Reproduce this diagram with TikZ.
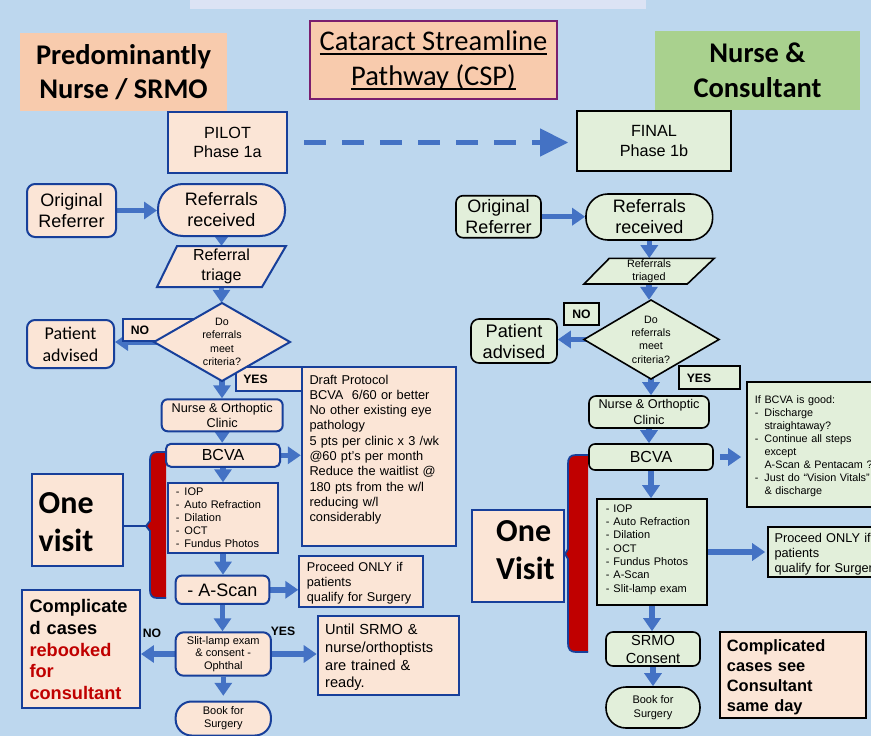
\documentclass[tikz,border=0pt]{standalone}
\usepackage{fontspec}
\setmainfont{Liberation Sans}
\newfontfamily\calib{Carlito}
\usetikzlibrary{arrows.meta,backgrounds}
\definecolor{bgc}{HTML}{BDD7EE}
\definecolor{stripc}{HTML}{DCE3F4}
\definecolor{peachH}{HTML}{F8CBAD}
\definecolor{peachL}{HTML}{FBE5D6}
\definecolor{greenH}{HTML}{A9D18E}
\definecolor{greenL}{HTML}{E2EFDA}
\definecolor{dblue}{HTML}{173F9A}
\definecolor{ablue}{HTML}{4472C4}
\definecolor{dred}{HTML}{C00000}
\definecolor{purp}{HTML}{7A1E6E}
\newcommand\fsz[2]{\fontsize{#1}{#2}\selectfont}
\newcommand\myul[1]{\setbox0=\hbox{#1}\rlap{\rule[-4.5pt]{\wd0}{1.7pt}}\box0}
\newcommand\ldash[1]{\makebox[#1][l]{-}}
\begin{document}
\begin{tikzpicture}[x=1pt,y=-1pt,
  lbox/.style={draw=dblue,line width=2pt,fill=peachL,inner sep=0pt,align=center},
  rbox/.style={draw=black,line width=1.6pt,fill=greenL,inner sep=0pt,align=center},
  lshape/.style={draw=dblue,line width=2pt,fill=peachL},
  rshape/.style={draw=black,line width=1.6pt,fill=greenL},
  txt/.style={inner sep=0pt,align=left,anchor=base west},
  lbl/.style={inner sep=0pt,font=\bfseries\fsz{12.2}{14}},
  plain/.style={inner sep=0pt,align=center},
  arr/.style={draw=ablue,line width=5.5pt,-{Triangle[length=13pt,width=17pt]}},
  sarr/.style={draw=ablue,line width=5pt,-{Triangle[length=10pt,width=14pt]}},
  hdr/.style={inner sep=0pt,align=center,font=\calib\bfseries\fsz{28.5}{34.5}},
  brace/.style={draw=dblue,line width=1.8pt},
]
\useasboundingbox (0,0) rectangle (871,736);
\begin{pgfonlayer}{background}
\fill[bgc] (0,0) rectangle (871,736);
\end{pgfonlayer}
\fill[stripc] (190,0) rectangle (646,9);

% headers
\node[hdr,fill=peachH,minimum width=207,minimum height=78] (hdrL) at (123.5,72) {Predominantly\\Nurse / SRMO};
\node[draw=purp,line width=1.5pt,fill=peachH,minimum width=247,minimum height=78,inner sep=0pt,align=center,font=\calib\fsz{28.5}{35}] (csp) at (433.5,60) {\myul{Cataract Streamline}\\\myul{Pathway (CSP)}};
\node[hdr,fill=greenH,minimum width=205,minimum height=79] (hdrR) at (757.5,70.5) {Nurse \&\\Consultant};

\node[lbox,minimum width=119,minimum height=61,font=\fsz{16.2}{19.6}] (pilot) at (227.5,142.5) {PILOT\\Phase 1a};
\node[rbox,minimum width=154,minimum height=60,font=\fsz{16.2}{20}] (final) at (654,141) {FINAL\\Phase 1b};

% ---------------- left flow
\node[lbox,rounded corners=8pt,minimum width=89,minimum height=53,font=\fsz{18}{20.7}] (origL) at (71.5,210.5) {Original\\Referrer};
\node[lbox,rounded corners=25pt,minimum width=127,minimum height=52,font=\fsz{18}{21}] (recvL) at (221.5,210) {Referrals\\received};
\path[lshape] (177,246) -- (286,246) -- (262,287) -- (157,287) -- cycle;
\node[plain,minimum width=129,minimum height=41,font=\fsz{16}{20}] (triL) at (221.5,266.5) {Referral\\triage};

\path[lshape] (123,319) rectangle (200,341);
\node[lbl] (noL) at (140,330.5) {NO};
\path[lshape] (236,367) rectangle (310,391);
\node[lbl] (yesL) at (255.5,379.5) {YES};
\path[lshape] (222,303) -- (290,342) -- (222,381) -- (154,342) -- cycle;
\node[plain,minimum width=136,minimum height=78,font=\fsz{10.7}{13.3}] (diaL) at (222,342) {Do\\referrals\\meet\\criteria?};

\node[lbox,rounded corners=8pt,minimum width=87,minimum height=48,font=\calib\fsz{18}{21.7}] (patL) at (70.5,344) {Patient\\advised};
\node[lbox,rounded corners=6pt,minimum width=121,minimum height=32,font=\fsz{12.7}{15.6}] (nurseL) at (222.2,415.3) {Nurse \& Orthoptic\\Clinic};

% left bracket
\fill[dred] (166,452) -- (157,452) .. controls (152,452) and (150,455) .. (150,460) -- (150,521) -- (146,526) -- (150,531) -- (150,590) .. controls (150,595) and (152,598) .. (157,598) -- (166,598) -- cycle;
\draw[brace] (166,452) -- (157,452) .. controls (152,452) and (150,455) .. (150,460) -- (150,521) -- (146,526) -- (150,531) -- (150,590) .. controls (150,595) and (152,598) .. (157,598) -- (166,598);
\coordinate (tipL) at (146,526);

\node[lbox,rounded corners=5pt,minimum width=114,minimum height=23,font=\fsz{16}{19}] (bcvaL) at (223,455.3) {BCVA};
\node[lbox,minimum width=154,minimum height=179] (draftL) at (378.8,456.7) {};
\node[txt,text width=150,font=\fsz{12.8}{15.3}] (draftT) at (309.3,384) {Draft Protocol\\BCVA\ \ 6/60 or better\\No other existing eye\\pathology\\5 pts per clinic x 3 /wk\\@60 pt’s per month\\Reduce the waitlist @\\180 pts from the w/l\\reducing w/l\\considerably};

\node[lbox,minimum width=110.6,minimum height=70] (listL) at (223,518.3) {};
\node[txt,text width=105,font=\fsz{11}{13}] (listLT) at (175.7,495.7) {\ldash{8.6pt}IOP\\\ldash{8.6pt}Auto Refraction\\\ldash{8.6pt}Dilation\\\ldash{8.6pt}OCT\\\ldash{8.6pt}Fundus Photos};

\node[lbox,rounded corners=6pt,minimum width=93.6,minimum height=28.3,font=\fsz{18}{21}] (ascanL) at (222.5,589.8) {- A-Scan};
\node[lbox,minimum width=123.4,minimum height=51.3] (procL) at (361,581.7) {};
\node[txt,text width=120,font=\fsz{12.7}{15}] (procLT) at (306.7,571.3) {Proceed ONLY if\\patients\\qualify for Surgery};

\node[lbox,rounded corners=8pt,minimum width=95.3,minimum height=43.4,font=\fsz{11}{12.8}] (slitL) at (223.3,654) {Slit-lamp exam\\\& consent -\\Ophthal};
\node[lbl] (noL2) at (152,633.3) {NO};
\node[lbl] (yesL2) at (283,631.7) {YES};

\node[lbox,minimum width=118.3,minimum height=118.3] (compL) at (80.8,649.2) {};
\node[txt,text width=115,font=\bfseries\fsz{18.2}{21.8}] (compLT) at (29.3,612.5) {Complicate\\d cases\\\textcolor{dred}{rebooked}\\\textcolor{dred}{for}\\\textcolor{dred}{consultant}};

\node[lbox,minimum width=141.6,minimum height=79.3] (untilL) at (388.5,655.3) {};
\node[txt,text width=135,font=\fsz{14.6}{17.8}] (untilLT) at (325,634.5) {Until SRMO \&\\nurse/orthoptists\\are trained \&\\ready.};

\node[lbox,rounded corners=16pt,minimum width=95.3,minimum height=34,font=\fsz{11}{12.8}] (bookL) at (223.3,718.5) {Book for\\Surgery};

\node[lbox,minimum width=91.6,minimum height=91.7] (oneL) at (77.5,520.2) {};
\node[txt,text width=85,font=\calib\bfseries\fsz{32}{38.3}] (oneLT) at (38.5,513.3) {One\\visit};
\draw[brace] (oneL.east |- tipL) -- (tipL);

% ---------------- right flow
\node[rbox,rounded corners=7pt,minimum width=85,minimum height=42,font=\fsz{18}{20.7}] (origR) at (498.5,216.7) {Original\\Referrer};
\node[rbox,rounded corners=22pt,minimum width=126.7,minimum height=46,font=\fsz{18}{21}] (recvR) at (649.3,217) {Referrals\\received};
\path[rshape] (609.3,258.3) -- (714.3,258.3) -- (687.3,284) -- (584,284) -- cycle;
\node[plain,minimum width=130,minimum height=25.7,font=\fsz{10.8}{12.7}] (triR) at (649,271.2) {Referrals\\triaged};

\path[rshape] (564,303) rectangle (599,325);
\node[lbl] (noR) at (581.5,314) {NO};
\path[rshape] (679,366) rectangle (740,389);
\node[lbl] (yesR) at (699,378) {YES};
\path[rshape] (651,300) -- (719,339.5) -- (651,379) -- (584,339.5) -- cycle;
\node[plain,minimum width=135,minimum height=79,font=\fsz{10.7}{13.3}] (diaR) at (651,339.5) {Do\\referrals\\meet\\criteria?};

\node[rbox,rounded corners=8pt,minimum width=86,minimum height=44,font=\fsz{18.2}{21}] (patR) at (514,341) {Patient\\advised};
\node[rbox,rounded corners=7pt,minimum width=120,minimum height=32,font=\fsz{12.7}{15.6}] (nurseR) at (649,412) {Nurse \& Orthoptic\\Clinic};

% right bracket
\fill[dred] (588,455) -- (576,455) .. controls (570,455) and (568,458) .. (568,464) -- (568,549) -- (565,554) -- (568,559) -- (568,643) .. controls (568,649) and (570,652) .. (576,652) -- (588,652) -- cycle;
\draw[brace] (588,455) -- (576,455) .. controls (570,455) and (568,458) .. (568,464) -- (568,549) -- (565,554) -- (568,559) -- (568,643) .. controls (568,649) and (570,652) .. (576,652) -- (588,652);
\coordinate (tipR) at (565,554);

\node[rbox,rounded corners=6pt,minimum width=124,minimum height=26,font=\fsz{16}{19}] (bcvaR) at (651,457) {BCVA};
\node[rbox,minimum width=143,minimum height=125] (infoR) at (818.5,444.5) {};
\node[txt,text width=135,font=\fsz{10.8}{13}] (infoRT) at (754.7,403.2) {If BCVA is good:\\\ldash{9.6pt}Discharge\\\hspace*{9.6pt}straightaway?\\\ldash{9.6pt}Continue all steps\\\hspace*{9.6pt}except\\\hspace*{9.6pt}A-Scan \& Pentacam ?\\\ldash{9.6pt}Just do “Vision Vitals”\\\hspace*{9.6pt}\& discharge};

\node[rbox,minimum width=110,minimum height=106] (listR) at (652,552) {};
\node[txt,text width=105,font=\fsz{11}{13.3}] (listRT) at (605.7,512.3) {\ldash{7.6pt}IOP\\\ldash{7.6pt}Auto Refraction\\\ldash{7.6pt}Dilation\\\ldash{7.6pt}OCT\\\ldash{7.6pt}Fundus Photos\\\ldash{7.6pt}A-Scan\\\ldash{7.6pt}Slit-lamp exam};

\node[rbox,minimum width=122,minimum height=50] (procR) at (829,552) {};
\node[txt,text width=120,font=\fsz{12.75}{15}] (procRT) at (774.3,542.3) {Proceed ONLY if\\patients\\qualify for Surgery};

\node[rbox,rounded corners=7pt,minimum width=94,minimum height=34,font=\fsz{14.6}{18}] (srmoR) at (653,649) {SRMO\\Consent};
\node[rbox,rounded corners=20pt,minimum width=94,minimum height=41,font=\fsz{11}{14.3}] (bookR) at (653,707.5) {Book for\\Surgery};

\node[draw=black,line width=1.6pt,fill=peachL,minimum width=146,minimum height=86,inner sep=0pt] (compR) at (793,675) {};
\node[txt,text width=140,font=\bfseries\fsz{16.4}{20}] (compRT) at (726.7,651.6) {Complicated\\cases see\\Consultant\\same day};

\node[lbox,minimum width=92,minimum height=92] (oneR) at (518,556) {};
\node[txt,text width=85,font=\calib\bfseries\fsz{32}{37.6}] (oneRT) at (496,541.7) {One\\Visit};
\draw[brace] (oneR.east |- tipR) -- (tipR);

% ---------------- connectors
\begin{pgfonlayer}{background}
\draw[draw=ablue,line width=4.5pt,dash pattern=on 22pt off 16pt,-{Triangle[length=28pt,width=27pt]},shorten <=16pt,shorten >=8pt] (pilot.east) -- (pilot.east -| final.west);
% left
\draw[arr] (origL.east) -- (origL.east -| recvL.west);
\draw[sarr,shorten <=-4pt] (recvL.south) -- (recvL.south |- triL.north);
\draw[arr,shorten <=-4pt] (triL.south) -- (triL.south |- diaL.north);
\draw[arr,shorten <=-8pt] (diaL.west) -- (diaL.west -| patL.east);
\draw[arr,shorten <=-4pt] (diaL.south) -- (diaL.south |- nurseL.north);
\draw[arr,shorten <=-4pt] (nurseL.south) -- (nurseL.south |- bcvaL.north);
\draw[arr] (bcvaL.east) -- (bcvaL.east -| draftL.west);
\draw[arr] (bcvaL.south) -- (bcvaL.south |- listL.north);
\draw[arr] (listL.south) -- (listL.south |- ascanL.north);
\draw[arr] (ascanL.east) -- (ascanL.east -| procL.west);
\draw[arr] (ascanL.south) -- (ascanL.south |- slitL.north);
\draw[arr] (slitL.west) -- (slitL.west -| compL.east);
\draw[arr] (slitL.east) -- (slitL.east -| untilL.west);
\draw[arr,shorten >=4.7pt] (slitL.south) -- (slitL.south |- bookL.north);
% right
\draw[arr] (origR.east) -- (origR.east -| recvR.west);
\draw[arr,shorten <=-4pt] (recvR.south) -- (recvR.south |- triR.north);
\draw[arr,shorten <=-4pt] (triR.south) -- (triR.south |- diaR.north);
\draw[arr,shorten <=-8pt] (diaR.west) -- (diaR.west -| patR.east);
\draw[arr,shorten <=-4pt] (diaR.south) -- (diaR.south |- nurseR.north);
\draw[arr,shorten <=-4pt] (nurseR.south) -- (nurseR.south |- bcvaR.north);
\draw[arr,shorten <=6pt,shorten >=5pt] (bcvaR.east) -- (bcvaR.east -| infoR.west);
\draw[arr] (bcvaR.south) -- (bcvaR.south |- listR.north);
\draw[arr,shorten >=2pt] (listR.east) -- (listR.east -| procR.west);
\draw[arr] (listR.south) -- (listR.south |- srmoR.north);
\draw[arr] (srmoR.south) -- (srmoR.south |- bookR.north);
\end{pgfonlayer}
\end{tikzpicture}
\end{document}
